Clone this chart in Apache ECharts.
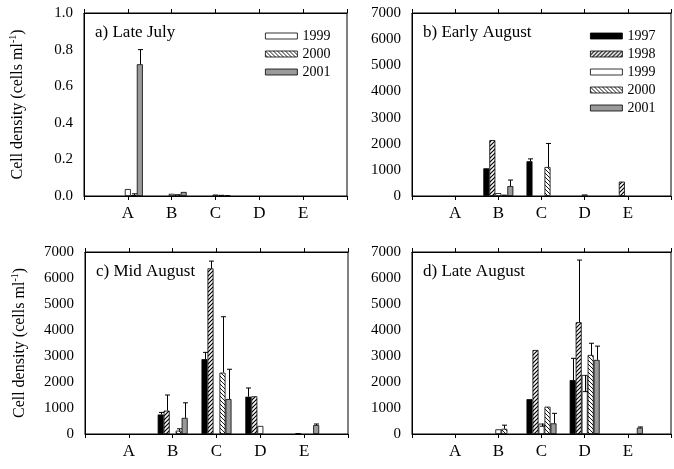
<!DOCTYPE html>
<html>
<head>
<meta charset="utf-8">
<script src="https://cdn.jsdelivr.net/npm/echarts@6/dist/echarts.min.js"></script>
<style>
  html, body { margin: 0; padding: 0; background: #fff; }
  #main { width: 674px; height: 469px; }
</style>
</head>
<body>
<div id="main"></div>
<script>
var years = ['1997', '1998', '1999', '2000', '2001'];
var sites = ['A', 'B', 'C', 'D', 'E'];

// rows = years (1997..2001), columns = sites A..E
var lateJuly = [
    [null, null, null, null, null],
    [null, null, null, null, null],
    [0.038, 0.012, 0.008, null, null],
    [0.005, 0.01, 0.006, null, null],
    [0.72, 0.022, 0.003, null, null]
];
var lateJulyErr = [
    [null, null, null, null, null],
    [null, null, null, null, null],
    [null, null, null, null, null],
    [0.012, null, null, null, null],
    [0.80, null, null, null, null]
];
var earlyAug = [
    [null, 1060, 1330, null, null],
    [null, 2140, null, null, 550],
    [null, 110, null, 60, null],
    [null, 50, 1110, null, null],
    [null, 380, null, null, null]
];
var earlyAugErr = [
    [null, null, 1420, null, null],
    [null, null, null, null, null],
    [null, null, null, null, null],
    [null, null, 2010, null, null],
    [null, 610, null, null, null]
];
var midAug = [
    [null, 750, 2880, 1435, null],
    [null, 900, 6370, 1450, 30],
    [null, null, null, 310, null],
    [null, 130, 2360, null, null],
    [null, 620, 1345, null, 345]
];
var midAugErr = [
    [null, 830, 3140, 1770, null],
    [null, 1500, 6650, null, null],
    [null, null, null, null, null],
    [null, 200, 4510, null, null],
    [null, 1200, 2490, null, 385]
];
var lateAug = [
    [null, null, 1340, 2075, null],
    [null, null, 3230, 4300, null],
    [null, 180, 400, 2270, null],
    [null, 200, 1050, 3040, null],
    [null, null, 410, 2850, 245]
];
var lateAugErr = [
    [null, null, null, 2910, null],
    [null, null, null, 6690, null],
    [null, null, 300, 1630, null],
    [null, 340, null, 3490, null],
    [null, null, 795, 3380, 270]
];

var serif = 'Liberation Serif';

function hatch(dir, lw) {
    var c = document.createElement('canvas');
    c.width = 4;
    c.height = 4;
    var g = c.getContext('2d');
    g.fillStyle = '#fff';
    g.fillRect(0, 0, 4, 4);
    g.strokeStyle = '#000';
    g.lineWidth = lw;
    g.beginPath();
    if (dir > 0) {
        g.moveTo(0, 4); g.lineTo(4, 0);
        g.moveTo(-1, 1); g.lineTo(1, -1);
        g.moveTo(3, 5); g.lineTo(5, 3);
    } else {
        g.moveTo(0, 0); g.lineTo(4, 4);
        g.moveTo(3, -1); g.lineTo(5, 1);
        g.moveTo(-1, 3); g.lineTo(1, 5);
    }
    g.stroke();
    return c;
}

var fills = [
    '#000',
    { image: hatch(1, 1.2), repeat: 'repeat' },
    '#fff',
    { image: hatch(-1, 0.9), repeat: 'repeat' },
    '#9a9a9a'
];

var panels = [
    { mean: lateJuly, err: lateJulyErr, title: 'a) Late July', grid: { left: 84, top: 13, width: 263, height: 183 }, max: 1, interval: 0.2, named: true },
    { mean: earlyAug, err: earlyAugErr, title: 'b) Early August', grid: { left: 412, top: 13, width: 261, height: 183 }, max: 7000, interval: 1000, named: false },
    { mean: midAug, err: midAugErr, title: 'c) Mid August', grid: { left: 85, top: 252, width: 263, height: 182 }, max: 7000, interval: 1000, named: true },
    { mean: lateAug, err: lateAugErr, title: 'd) Late August', grid: { left: 412, top: 252, width: 261, height: 182 }, max: 7000, interval: 1000, named: false }
];

var axisCats = [''].concat(sites, ['']);
var barW = 6;

var grids = [], xAxes = [], yAxes = [], titles = [], series = [];

panels.forEach(function (p, i) {
    grids.push(Object.assign({ show: true, borderColor: '#000', borderWidth: 1, backgroundColor: '#fff' }, p.grid));
    titles.push({
        text: p.title,
        padding: 0,
        left: p.grid.left + 11,
        top: p.grid.top + 11,
        textStyle: { fontFamily: serif, fontSize: 17, fontWeight: 'normal', color: '#000' }
    });
    xAxes.push({
        type: 'category', gridIndex: i, data: axisCats, boundaryGap: false,
        axisLine: { lineStyle: { color: '#000', width: 1 } },
        axisTick: { show: true, length: 4, lineStyle: { color: '#000' } },
        axisLabel: { color: '#000', fontFamily: serif, fontSize: 17, margin: 9, interval: 0 }
    });
    xAxes.push({
        type: 'category', gridIndex: i, data: axisCats, boundaryGap: false, position: 'top',
        axisLine: { lineStyle: { color: '#000', width: 1 } },
        axisTick: { show: true, length: 4, lineStyle: { color: '#000' } },
        axisLabel: { show: false }
    });
    var ya = {
        type: 'value', gridIndex: i, min: 0, max: p.max, interval: p.interval,
        axisLine: { show: true, lineStyle: { color: '#000' } },
        axisTick: { show: false },
        splitLine: { show: false },
        axisLabel: {
            color: '#000', fontFamily: serif, fontSize: 15, margin: 11,
            formatter: p.max === 1 ? function (v) { return v.toFixed(1); } : function (v) { return String(v); }
        }
    };
    if (p.named) {
        ya.name = '{a|Cell density (cells ml}{b|-1}{a|)}';
        ya.nameLocation = 'middle';
        ya.nameGap = p.max === 1 ? 57 : 56;
        ya.nameTextStyle = {
            rich: {
                a: { fontFamily: serif, fontSize: 16, color: '#000', lineHeight: 19 },
                b: { fontFamily: serif, fontSize: 10, color: '#000', verticalAlign: 'top', lineHeight: 19 }
            }
        };
    }
    yAxes.push(ya);

    var errData = [];
    years.forEach(function (y, k) {
        series.push({
            name: y, type: 'bar', xAxisIndex: i * 2, yAxisIndex: i,
            barWidth: barW, barGap: '0%',
            data: [null].concat(p.mean[k], [null]),
            itemStyle: { color: fills[k], borderColor: '#000', borderWidth: 0.8 },
            silent: true
        });
        p.err[k].forEach(function (e, j) {
            if (e != null) errData.push([j + 1, k, p.mean[k][j], e]);
        });
    });
    series.push({
        type: 'custom', xAxisIndex: i * 2, yAxisIndex: i, z: 5, silent: true,
        data: errData,
        renderItem: function (params, api) {
            var cat = api.value(0), slot = api.value(1);
            var p0 = api.coord([cat, api.value(2)]);
            var p1 = api.coord([cat, api.value(3)]);
            var x = Math.round(p0[0] + (slot - 2) * barW) + 0.5;
            var style = { stroke: '#000', lineWidth: 1 };
            return {
                type: 'group',
                children: [
                    { type: 'line', shape: { x1: x, y1: p0[1], x2: x, y2: p1[1] }, style: style },
                    { type: 'line', shape: { x1: x - 2.5, y1: p1[1], x2: x + 2.5, y2: p1[1] }, style: style }
                ]
            };
        }
    });
});

var legendBase = {
    orient: 'vertical', itemWidth: 32, itemHeight: 6, itemGap: 4, icon: 'rect',
    padding: 0, selectedMode: false,
    itemStyle: { borderColor: '#000', borderWidth: 0.8 },
    textStyle: { fontFamily: serif, fontSize: 14, color: '#000' }
};

var myChart = echarts.init(document.getElementById('main'));
myChart.setOption({
    animation: false,
    backgroundColor: '#fff',
    title: titles,
    legend: [
        Object.assign({ left: 265, top: 29, data: ['1999', '2000', '2001'] }, legendBase),
        Object.assign({ left: 590, top: 29, data: years }, legendBase)
    ],
    grid: grids,
    xAxis: xAxes,
    yAxis: yAxes,
    series: series
});
</script>
</body>
</html>
